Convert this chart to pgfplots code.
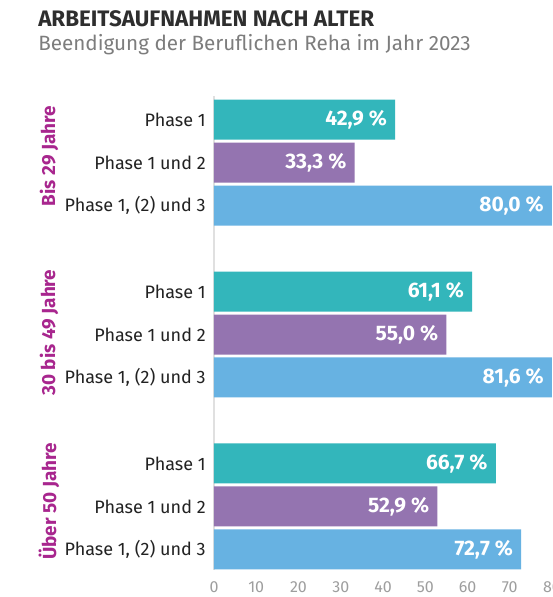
\documentclass[border=0pt]{standalone}
\usepackage{pgfplots}
\pgfplotsset{compat=1.18}
\usepackage{pgfplotstable}
\usepackage{fontspec}
\setmainfont{Fira Sans}
\definecolor{cTeal}{HTML}{33B6BB}
\definecolor{cPurple}{HTML}{9474B0}
\definecolor{cBlue}{HTML}{67B2E2}
\definecolor{cMag}{HTML}{A8268E}
\definecolor{cTitle}{HTML}{2E2E2E}
\definecolor{cSub}{HTML}{7D7D7D}
\definecolor{cTick}{HTML}{9E9E9E}
\definecolor{cCat}{HTML}{222222}

% bar values: x = percentage, y = row position
\pgfplotstableread{
x y
42.9 0
61.1 4
66.7 8
}\phaseone
\pgfplotstableread{
x y
33.3 1
55.0 5
52.9 9
}\phasetwo
\pgfplotstableread{
x y
80.0 2
81.6 6
72.7 10
}\phasethree
% value labels: pos = where the label sits (clamped to the visible area), v = value shown
\pgfplotstableread{
pos y v
42.9 0 42.9
33.3 1 33.3
80.0 2 80.0
61.1 4 61.1
55.0 5 55.0
80.0 6 81.6
66.7 8 66.7
52.9 9 52.9
72.7 10 72.7
}\labels

\begin{document}
\begin{tikzpicture}[x=0.75pt,y=-0.75pt]
\clip (0,0) rectangle (553,597);
\path[fill=white] (0,0) rectangle (553,597);
\node[anchor=base west, inner sep=0pt, text=cTitle, font=\fontsize{16.8pt}{19pt}\selectfont\bfseries] at (38,26.7) {ARBEITSAUFNAHMEN NACH ALTER};
\node[anchor=base west, inner sep=0pt, text=cSub, font=\fontsize{15.5pt}{18pt}\selectfont] at (38,50) {Beendigung der Beruflichen Reha im Jahr 2023};

\begin{axis}[
  at={(160.5pt,-427.5pt)}, anchor=south west,
  scale only axis, width=253.5pt, height=355.5pt,
  xmin=0, xmax=80, ymin=-0.55, ymax=10.48,
  y dir=reverse,
  axis x line*=bottom, axis y line*=left,
  x axis line style={draw=none},
  y axis line style={draw=black!12, line width=1.2pt, -},
  tick style={draw=none},
  xtick={0,10,...,80},
  xticklabel style={anchor=center, yshift=-12.75pt, text=cTick, font=\fontsize{12pt}{14pt}\selectfont},
  /pgf/number format/assume math mode=true,
  ytick={0,1,2,4,5,6,8,9,10},
  yticklabels={Phase 1, Phase 1 und 2, {Phase 1, (2) und 3}, Phase 1, Phase 1 und 2, {Phase 1, (2) und 3}, Phase 1, Phase 1 und 2, {Phase 1, (2) und 3}},
  yticklabel style={anchor=east, inner sep=0pt, xshift=-6pt, text=cCat, font=\fontsize{13.5pt}{16pt}\selectfont},
  clip=true,
]
\addplot[xbar, bar width=30pt, bar shift=0pt, fill=cTeal, draw=none] table[x=x, y=y] {\phaseone};
\addplot[xbar, bar width=30pt, bar shift=0pt, fill=cPurple, draw=none] table[x=x, y=y] {\phasetwo};
\addplot[xbar, bar width=30pt, bar shift=0pt, fill=cBlue, draw=none] table[x=x, y=y] {\phasethree};
\addplot[draw=none, mark=none, point meta=\thisrow{v},
  nodes near coords={\pgfmathprintnumber[fixed, fixed zerofill, precision=1, use comma]{\pgfplotspointmeta}~\%},
  nodes near coords style={anchor=east, xshift=-6pt, inner sep=0pt, text=white, font=\fontsize{15.75pt}{18pt}\selectfont\bfseries, /pgf/number format/assume math mode=true},
] table[x=pos, y=y] {\labels};
\end{axis}

\node[rotate=90, text=cMag, font=\fontsize{14.2pt}{16pt}\selectfont\bfseries, inner sep=0pt] at (49,156) {Bis 29 Jahre};
\node[rotate=90, text=cMag, font=\fontsize{14.2pt}{16pt}\selectfont\bfseries, inner sep=0pt] at (49,332.5) {30 bis 49 Jahre};
\node[rotate=90, text=cMag, font=\fontsize{14.2pt}{16pt}\selectfont\bfseries, inner sep=0pt] at (49,501.5) {Über 50 Jahre};
\end{tikzpicture}
\end{document}
